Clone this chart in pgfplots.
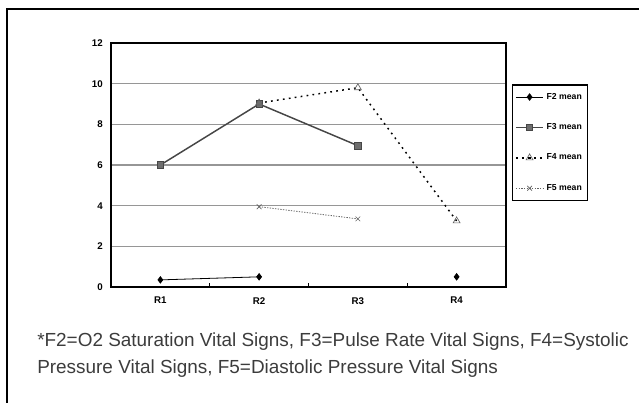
\documentclass[border=0pt]{standalone}
\usepackage{pgfplots}
\pgfplotsset{compat=1.18}
\usepackage{fontspec}
\setmainfont{Liberation Sans}
\setsansfont{Liberation Sans}
\definecolor{gridgray}{RGB}{150,150,150}
\definecolor{fthree}{RGB}{70,70,70}
\definecolor{sqfill}{RGB}{110,110,110}
\definecolor{fivegray}{RGB}{100,100,100}
\definecolor{notegray}{RGB}{60,60,60}
\begin{document}
\begin{tikzpicture}[x=0.75pt,y=0.75pt]
\useasboundingbox (0,0) rectangle (639,403);
\draw[line width=0.9pt] (7,0) -- (7,394) -- (639,394);
\begin{axis}[
  at={(83.25pt,87pt)}, anchor=south west,
  scale only axis, width=296.25pt, height=183pt,
  xmin=-0.5, xmax=3.5, ymin=0, ymax=12,
  xtick={0,1,2,3}, xticklabels={R1,R2,R3,R4},
  ytick={0,2,4,6,8,10,12},
  major tick length=0pt,
  extra x ticks={0.5,1.5,2.5}, extra x tick labels={},
  extra x tick style={major tick length=3pt, tick style={black, line width=0.8pt}, xmajorgrids=false, tick pos=bottom, tick align=inside},
  ymajorgrids, grid style={gridgray, line width=0.8pt},
  axis line style={black, line width=0.9pt},
  tick label style={font=\sffamily\bfseries\fontsize{7.3}{8}\selectfont},
  /pgf/number format/assume math mode=true,
  yticklabel style={inner sep=0pt, xshift=-6pt},
  xticklabel style={inner sep=0pt, yshift=-7.5pt},
  unbounded coords=jump,
  legend cell align=left,
  legend style={at={(1.0152,0.83)}, anchor=north west, draw=black, line width=0.8pt,
    font=\sffamily\bfseries\fontsize{6.5}{7}\selectfont, row sep=12.8pt,
    inner xsep=2pt, inner ysep=4pt},
  legend image code/.code={\draw[mark repeat=2, mark phase=2, #1] plot coordinates {(0cm,0cm) (0.36cm,0cm) (0.72cm,0cm)};},
]
\addplot[black, line width=0.6pt, mark=diamond*, mark size=2.4pt, mark options={solid, fill=black}] coordinates {(0,0.35) (1,0.5) (2,nan) (3,0.5)};
\addlegendentry{F2 mean}
\addplot[fthree, line width=1.1pt, mark=square*, mark size=2.4pt, mark options={solid, fill=sqfill, draw=fthree, line width=0.5pt}] coordinates {(0,6.0) (1,9.0) (2,6.95)};
\addlegendentry{F3 mean}
\addplot[black, line width=1.1pt, dash pattern=on 1.3pt off 3.2pt, mark=triangle, mark size=3pt, mark options={solid, draw=fivegray, fill=white, line width=0.5pt}] coordinates {(1,9.05) (2,9.8) (3,3.25)};
\addlegendentry{F4 mean}
\addplot[fivegray, line width=0.6pt, dash pattern=on 1pt off 1pt, mark=x, mark size=2.5pt, mark options={solid, draw=fivegray, line width=0.5pt}] coordinates {(1,3.95) (2,3.35)};
\addlegendentry{F5 mean}
\end{axis}
\node[anchor=base west, inner sep=0pt, text=notegray, font=\fontsize{14.2}{16}\selectfont] at (37,56) {*F2=O2 Saturation Vital Signs, F3=Pulse Rate Vital Signs, F4=Systolic};
\node[anchor=base west, inner sep=0pt, text=notegray, font=\fontsize{14.2}{16}\selectfont] at (37,29) {Pressure Vital Signs, F5=Diastolic Pressure Vital Signs};
\end{tikzpicture}
\end{document}
